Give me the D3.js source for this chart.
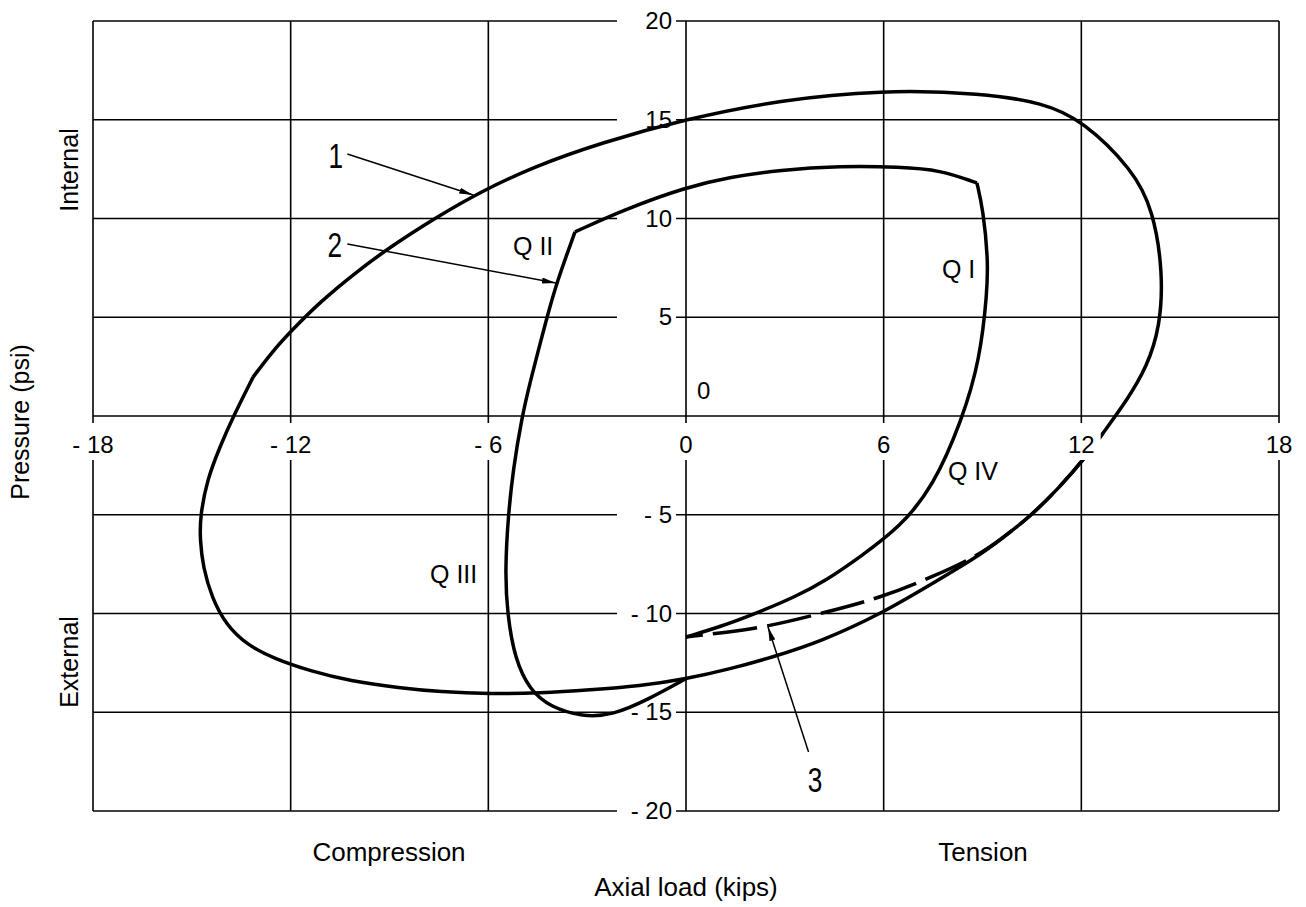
<!DOCTYPE html>
<html>
<head>
<meta charset="utf-8">
<script src="https://cdn.jsdelivr.net/npm/d3@7"></script>
<style>
body { margin: 0; background: #fff; }
text { font-family: Arial, "Liberation Sans", sans-serif; fill: #000; }
</style>
</head>
<body>
<div id="chart"></div>
<script>
// grid / tick values
const xTicks = [-18, -12, -6, 0, 6, 12, 18]
const yTicks = [20, 15, 10, 5, 0, -5, -10, -15, -20]

// curve 1 - outer envelope (axial load, pressure), starts and ends at the kink
const outerX = [-13.14, -12.57, -11.96, -11.11, -10.05, -8.98, -7.56, -6.25, -4.64, -2.61, 0, 2.85, 5.89, 9.02, 10.84, 12.02, 13.57, 14.18, 14.48, 14.39, 13.99, 13.39, 12.66, 12.11, 11.35, 10.44, 9.53, 8.83, 7.5, 5.98, 4.07, 2.64, 1.34, 0, -1.4, -2.91, -4.43, -5.95, -7.47, -8.68, -10.2, -11.41, -12.48, -13.33, -13.96, -14.39, -14.66, -14.75, -14.75, -14.54, -14.15, -13.75, -13.14]
const outerY = [1.97, 3.24, 4.35, 5.77, 7.24, 8.56, 10.08, 11.34, 12.61, 13.82, 15.04, 16.0, 16.51, 16.35, 15.85, 14.99, 12.46, 10.43, 7.24, 4.51, 2.48, 0.81, -0.86, -2.13, -3.59, -5.11, -6.28, -7.14, -8.46, -9.97, -11.44, -12.2, -12.81, -13.32, -13.67, -13.87, -14.03, -14.08, -13.97, -13.77, -13.42, -12.91, -12.3, -11.59, -10.58, -9.22, -7.65, -6.28, -5.11, -3.24, -1.57, -0.05, 1.97]

// curve 2 - inner envelope, three pieces split at the two corners
const innerRightX = [0, 1.03, 2.16, 3.31, 4.28, 5.28, 6.5, 7.5, 8.38, 8.92, 9.14, 9.17, 9.02, 8.83]
const innerRightY = [-11.19, -10.68, -9.97, -9.16, -8.3, -7.14, -5.62, -3.59, -0.2, 2.84, 6.23, 7.9, 10.43, 11.8]
const innerTopX = [8.83, 7.71, 6.5, 4.67, 2.85, 1.34, 0, -1.91, -3.37]
const innerTopY = [11.8, 12.46, 12.61, 12.66, 12.46, 12.1, 11.59, 10.43, 9.32]
const innerLeftX = [-3.37, -3.92, -4.22, -4.74, -4.98, -5.25, -5.4, -5.49, -5.43, -5.19, -4.74, -4.13, -3.13, -2.22, -1.18, 0.03]
const innerLeftY = [9.32, 6.78, 5.01, 1.67, -0.05, -2.73, -5.11, -7.8, -9.97, -12.35, -13.87, -14.73, -15.24, -15.14, -14.38, -13.27]

// curve 3 - dashed
const dashX = [0, 1.03, 2.46, 4.16, 5.89, 7.62, 8.83, 9.53, 10.44, 11.35, 12.11, 12.66]
const dashY = [-11.19, -10.99, -10.68, -9.97, -9.22, -8.05, -7.09, -6.28, -5.11, -3.59, -2.13, -0.86]

// quadrant labels
const qNames = ["Q I", "Q II", "Q III", "Q IV"]
const qX = [7.77, -5.25, -7.77, 7.95]
const qY = [6.99, 8.15, -8.46, -3.24]

// leaders 1, 2, 3
const leadNames = ["1", "2", "3"]
const leadFromX = [-10.28, -10.28, 3.72]
const leadFromY = [13.27, 8.71, -17.01]
const leadToX = [-6.46, -3.95, 2.49]
const leadToY = [11.19, 6.73, -10.68]
const leadTxtX = [-10.63, -10.66, 3.92]
const leadTxtY = [12.56, 8.05, -19.04]

const width = 1306
const height = 907

const x = d3.scaleLinear().domain([-18, 18]).range([93, 1279])
const y = d3.scaleLinear().domain([-20, 20]).range([811, 21])

const fmt = d => d < 0 ? "- " + Math.abs(d) : String(d)
const zip = (xs, ys) => xs.map((v, i) => [v, ys[i]])

const svg = d3.select("#chart").append("svg")
    .attr("width", width)
    .attr("height", height)

svg.append("rect").attr("width", width).attr("height", height).attr("fill", "#fff")

// grid
svg.selectAll(".vgrid")
    .data(xTicks)
    .enter()
    .append("line")
    .attr("x1", d => x(d)).attr("x2", d => x(d))
    .attr("y1", y(20)).attr("y2", y(-20))
    .attr("stroke", "#000").attr("stroke-width", 1.6)

svg.selectAll(".hgrid")
    .data(yTicks)
    .enter()
    .append("line")
    .attr("x1", x(-18)).attr("x2", x(18))
    .attr("y1", d => y(d)).attr("y2", d => y(d))
    .attr("stroke", "#000").attr("stroke-width", 1.6)

// white knockouts behind the y labels (they break the grid lines)
const yLab = yTicks.filter(d => d !== 0)
svg.selectAll(".ybox")
    .data(yLab)
    .enter()
    .append("rect")
    .attr("x", x(0) - 69).attr("width", 59)
    .attr("y", d => y(d) - 3.5).attr("height", 7)
    .attr("fill", "#fff")

// curves
const line = d3.line().x(d => x(d[0])).y(d => y(d[1])).curve(d3.curveBasis)

const solid = [zip(outerX, outerY), zip(innerRightX, innerRightY), zip(innerTopX, innerTopY), zip(innerLeftX, innerLeftY)]
svg.selectAll(".curve")
    .data(solid)
    .enter()
    .append("path")
    .attr("d", line)
    .attr("fill", "none")
    .attr("stroke", "#000")
    .attr("stroke-width", 3.5)
    .attr("stroke-linejoin", "round")

svg.append("path")
    .attr("d", line(zip(dashX, dashY)))
    .attr("fill", "none")
    .attr("stroke", "#000")
    .attr("stroke-width", 3.5)
    .attr("stroke-dasharray", "45,10")
    .attr("stroke-dashoffset", 28)

// x labels with white boxes
const xl = svg.selectAll(".xl")
    .data(xTicks)
    .enter()
    .append("g")

xl.append("text")
    .attr("x", d => x(d))
    .attr("y", 453)
    .attr("text-anchor", "middle")
    .attr("font-size", 24)
    .text(fmt)
    .each(function () {
        const b = this.getBBox()
        d3.select(this.parentNode).insert("rect", "text")
            .attr("x", b.x - 6).attr("y", 423)
            .attr("width", b.width + 12).attr("height", 37)
            .attr("fill", "#fff")
    })

// y labels
svg.selectAll(".yl")
    .data(yLab)
    .enter()
    .append("text")
    .attr("x", x(0) - 14)
    .attr("y", d => y(d) + 8)
    .attr("text-anchor", "end")
    .attr("font-size", 24)
    .text(fmt)

svg.append("text").attr("x", 697).attr("y", 399).attr("font-size", 24).text("0")

svg.selectAll(".q")
    .data(qNames)
    .enter()
    .append("text")
    .attr("x", (d, i) => x(qX[i]))
    .attr("y", (d, i) => y(qY[i]))
    .attr("font-size", 25)
    .text(d => d)

const defs = svg.append("defs")
defs.append("marker")
    .attr("id", "arr")
    .attr("viewBox", "0 0 14 6")
    .attr("refX", 14).attr("refY", 3)
    .attr("markerWidth", 14).attr("markerHeight", 6)
    .attr("markerUnits", "userSpaceOnUse")
    .attr("orient", "auto")
    .append("path").attr("d", "M0,0 L14,3 L0,6 Z").attr("fill", "#000")

svg.selectAll(".lead")
    .data(leadNames)
    .enter()
    .append("line")
    .attr("x1", (d, i) => x(leadFromX[i])).attr("y1", (d, i) => y(leadFromY[i]))
    .attr("x2", (d, i) => x(leadToX[i])).attr("y2", (d, i) => y(leadToY[i]))
    .attr("stroke", "#000").attr("stroke-width", 1.5)
    .attr("marker-end", "url(#arr)")

svg.selectAll(".leadtxt")
    .data(leadNames)
    .enter()
    .append("text")
    .attr("transform", (d, i) => `translate(${x(leadTxtX[i])},${y(leadTxtY[i])}) scale(0.75,1)`)
    .attr("text-anchor", "middle")
    .attr("font-size", 35)
    .text(d => d)

// axis titles
const bottom = [["Compression", 389, 861], ["Tension", 983, 861], ["Axial load (kips)", 686, 896]]
svg.selectAll(".bt")
    .data(bottom)
    .enter()
    .append("text")
    .attr("x", d => d[1]).attr("y", d => d[2])
    .attr("text-anchor", "middle")
    .attr("font-size", 26)
    .text(d => d[0])

const side = [["Pressure (psi)", 29, 422], ["Internal", 78, 170], ["External", 78, 662]]
svg.selectAll(".side")
    .data(side)
    .enter()
    .append("text")
    .attr("transform", d => `translate(${d[1]},${d[2]}) rotate(-90)`)
    .attr("text-anchor", "middle")
    .attr("font-size", 25)
    .text(d => d[0])
</script>
</body>
</html>
